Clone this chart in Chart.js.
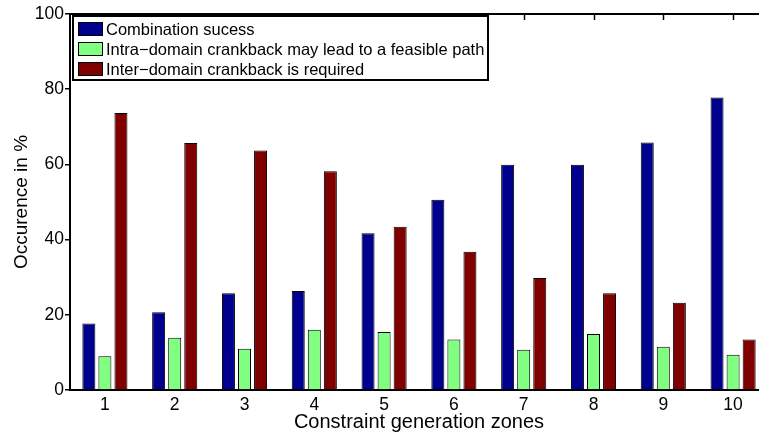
<!DOCTYPE html>
<html>
<head>
<meta charset="utf-8">
<script src="https://cdn.jsdelivr.net/npm/chart.js@4.4.1/dist/chart.umd.min.js"></script>
<style>
  html, body { margin: 0; padding: 0; background: #fff; overflow: hidden; }
  #wrap { width: 759px; height: 432px; overflow: hidden; }
</style>
</head>
<body>
<div id="wrap"><canvas id="chart" width="770" height="432"></canvas></div>
<script>
const zones = ["1", "2", "3", "4", "5", "6", "7", "8", "9", "10"];
const success = [17.7, 20.7, 25.7, 26.3, 41.7, 50.6, 59.9, 59.9, 65.8, 77.8];
const intraCrankback = [9.0, 13.9, 11.0, 16.0, 15.4, 13.4, 10.7, 14.9, 11.5, 9.4];
const interCrankback = [73.7, 65.7, 63.7, 58.2, 43.4, 36.8, 29.8, 25.7, 23.2, 13.4];
const yTicks = [0, 20, 40, 60, 80, 100];

const seriesNames = [
  "Combination sucess",
  "Intra\u2212domain crankback may lead to a feasible path",
  "Inter\u2212domain crankback is required",
];
const seriesColors = ["#00008f", "#80ff80", "#800000"];

const font = "'Liberation Sans', Arial, sans-serif";

// top box line, inward top ticks and the legend box
const framePlugin = {
  id: "frame",
  afterDraw(chart) {
    const ctx = chart.ctx;
    const area = chart.chartArea;
    const x = chart.scales.x;
    ctx.save();
    ctx.strokeStyle = "#000";
    ctx.lineWidth = 2;
    ctx.beginPath();
    ctx.moveTo(area.left, area.top);
    ctx.lineTo(area.right, area.top);
    ctx.stroke();
    ctx.lineWidth = 1.5;
    zones.forEach((z, i) => {
      const px = Math.round(x.getPixelForValue(i)) + 0.5;
      ctx.beginPath();
      ctx.moveTo(px, area.top);
      ctx.lineTo(px, area.top + 6);
      ctx.stroke();
    });

    // legend
    const lx = 73, ly = 16, lw = 415, lh = 64;
    ctx.fillStyle = "#fff";
    ctx.fillRect(lx, ly, lw, lh);
    ctx.lineWidth = 2;
    ctx.strokeRect(lx, ly, lw, lh);
    ctx.font = "16.5px " + font;
    ctx.textBaseline = "middle";
    seriesNames.forEach((name, i) => {
      const cy = ly + 13 + i * 20;
      ctx.fillStyle = seriesColors[i];
      ctx.fillRect(78, cy - 7, 25, 14);
      ctx.lineWidth = 1;
      ctx.strokeStyle = "#000";
      ctx.strokeRect(78.5, cy - 6.5, 24, 13);
      ctx.fillStyle = "#000";
      ctx.fillText(name, 106, cy + 1);
    });
    ctx.restore();
  },
};

const datasets = [success, intraCrankback, interCrankback].map((data, i) => ({
  label: seriesNames[i],
  data: data,
  backgroundColor: seriesColors[i],
  borderColor: "#000",
  borderWidth: 1,
  borderSkipped: "bottom",
  categoryPercentage: 0.69,
  barPercentage: 0.81,
}));

new Chart(document.getElementById("chart"), {
  type: "bar",
  data: { labels: zones, datasets },
  options: {
    responsive: false,
    animation: false,
    devicePixelRatio: 1,
    layout: { padding: { top: 14, right: 2, left: 0, bottom: 0 } },
    plugins: {
      legend: { display: false },
      tooltip: { enabled: false },
    },
    scales: {
      x: {
        grid: { display: false, drawTicks: false },
        border: { display: true, color: "#000", width: 2 },
        ticks: { color: "#000", font: { family: font, size: 17.5 }, padding: 5 },
        title: {
          display: true,
          text: "Constraint generation zones",
          color: "#000",
          font: { family: font, size: 20, lineHeight: 1 },
          padding: { top: 0, bottom: 0 },
        },
        afterFit(scale) { scale.height = 42; },
      },
      y: {
        min: 0,
        max: 100,
        afterBuildTicks(scale) { scale.ticks = yTicks.map((v) => ({ value: v })); },
        grid: { drawOnChartArea: false, drawTicks: true, tickLength: 5, color: "#000", lineWidth: 1.5 },
        border: { display: true, color: "#000", width: 2 },
        ticks: { color: "#000", font: { family: font, size: 17.5 }, padding: 1 },
        title: {
          display: true,
          text: "Occurence in %",
          color: "#000",
          font: { family: font, size: 19, lineHeight: 1 },
          padding: { top: 12, bottom: 0 },
        },
        afterFit(scale) { scale.width = 70; },
      },
    },
  },
  plugins: [framePlugin],
});
</script>
</body>
</html>
